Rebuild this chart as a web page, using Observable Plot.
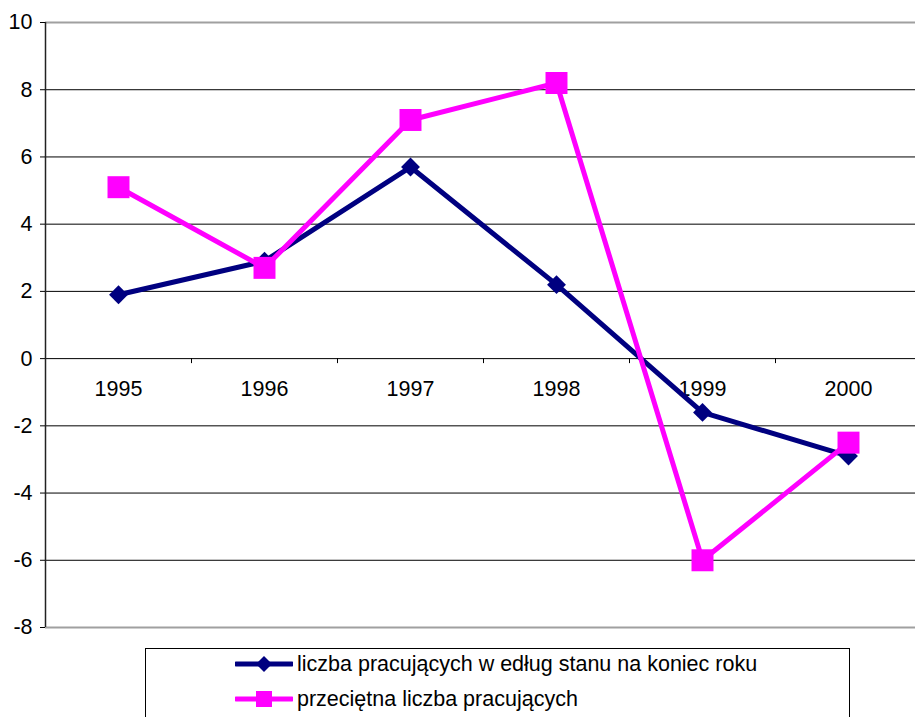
<!DOCTYPE html>
<html><head><meta charset="utf-8">
<script src="https://cdn.jsdelivr.net/npm/d3@7"></script>
<script src="https://cdn.jsdelivr.net/npm/@observablehq/plot@0.6"></script>
<style>
html,body{margin:0;padding:0;background:#fff;overflow:hidden;}
#wrap{position:relative;width:915px;height:717px;overflow:hidden;font-family:"Liberation Sans",Arial,sans-serif;background:#fff;}
#legend{position:absolute;left:145px;top:648px;width:705px;height:100px;border:1px solid #000;box-sizing:border-box;background:#fff;}
.item{position:absolute;left:89px;height:24px;display:flex;align-items:center;font-size:21.5px;color:#000;white-space:nowrap;}
.item svg{margin-right:4px;}
</style></head>
<body>
<div id="wrap"><div id="chart"></div><div id="legend"></div></div>
<script>
const years = [1995, 1996, 1997, 1998, 1999, 2000];
const liczbaKoniec = [1.9, 2.9, 5.7, 2.2, -1.6, -2.9];
const przecietna = [5.1, 2.7, 7.1, 8.2, -6.0, -2.5];
const yTicks = [-8, -6, -4, -2, 0, 2, 4, 6, 8, 10];
const seriesNames = ["liczba pracujących w edług stanu na koniec roku", "przeciętna liczba pracujących"];
const seriesColors = ["#000080", "#FF00FF"];

const data = years.map((y, i) => ({year: y, a: liczbaKoniec[i], b: przecietna[i]}));
const boundaries = years.slice(1).map(y => y - 0.5);
const yMin = d3.min(yTicks), yMax = d3.max(yTicks);

const chart = Plot.plot({
  width: 915,
  height: 640,
  marginLeft: 45,
  marginRight: 0,
  marginTop: 22,
  marginBottom: 13,
  style: {fontFamily: '"Liberation Sans", Arial, sans-serif', color: "#000", background: "#fff", overflow: "visible"},
  x: {type: "linear", domain: [years[0] - 0.5, years[years.length - 1] + 0.5], range: [45, 921], axis: null},
  y: {domain: [yMin, yMax], axis: null},
  marks: [
    Plot.ruleY(yTicks.filter(t => t !== yMin && t !== yMax), {stroke: "#000", strokeWidth: 1}),
    Plot.ruleY([yMin, yMax], {stroke: "#a0a0a0", strokeWidth: 2}),
    Plot.ruleX(boundaries, {y1: 0, y2: 0, insetBottom: -5, stroke: "#000"}),
    Plot.ruleX([years[0] - 0.5], {stroke: "#222", strokeWidth: 1.5}),
    Plot.axisY(yTicks, {tickSize: 5, tickPadding: 8, fontSize: 21.5, label: null, stroke: "#000", tickFormat: d => String(d)}),
    Plot.text(data, {x: "year", y: 0, dy: 30, text: d => String(d.year), fontSize: 21.5, fill: "#000"}),
    Plot.line(data, {x: "year", y: "a", stroke: seriesColors[0], strokeWidth: 5}),
    Plot.dot(data, {x: "year", y: "a", symbol: "diamond2", r: 8.5, fill: seriesColors[0], stroke: "none"}),
    Plot.line(data, {x: "year", y: "b", stroke: seriesColors[1], strokeWidth: 5}),
    Plot.dot(data, {x: "year", y: "b", symbol: "square", r: 12.4, fill: seriesColors[1], stroke: "none"})
  ]
});
document.getElementById("chart").appendChild(chart);

// legend
const legend = document.getElementById("legend");
const symbols = ["diamond", "square"];
seriesNames.forEach((name, i) => {
  const item = document.createElement("div");
  item.className = "item";
  item.style.top = (i === 0 ? 3 : 38) + "px";
  const mk = symbols[i] === "diamond"
    ? `<path d="M29,4 L37,12 L29,20 L21,12 Z" fill="${seriesColors[i]}"/>`
    : `<rect x="21" y="4" width="16" height="16" fill="${seriesColors[i]}"/>`;
  item.innerHTML = `<svg width="58" height="24"><line x1="1" y1="12" x2="57" y2="12" stroke="${seriesColors[i]}" stroke-width="5" stroke-linecap="round"/>${mk}</svg><span>${name}</span>`;
  legend.appendChild(item);
});
</script>
</body></html>
